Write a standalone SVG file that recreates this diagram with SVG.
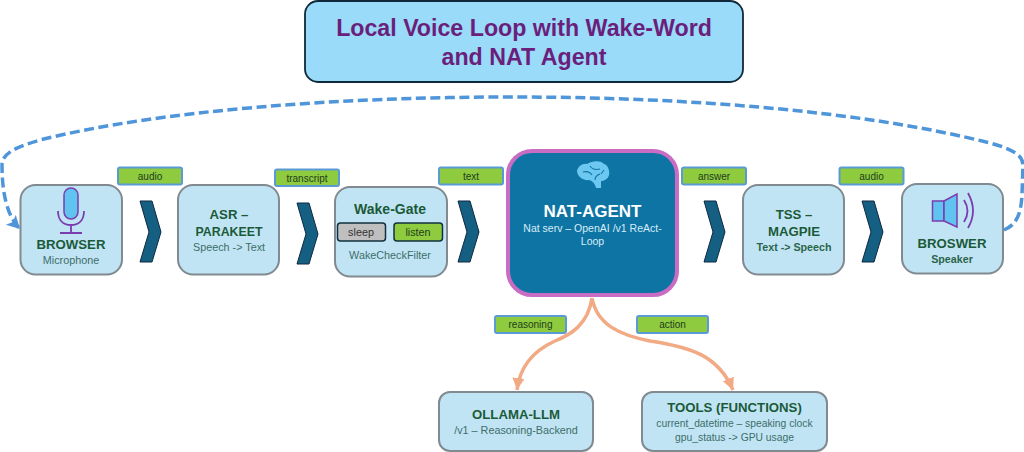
<svg xmlns="http://www.w3.org/2000/svg" width="1024" height="452" viewBox="0 0 1024 452">
<style>
text{font-family:"Liberation Sans",Arial,sans-serif;text-anchor:middle}
.box{fill:#C1E4F5;stroke:#808A90;stroke-width:2}
.h{font-weight:700;font-size:13.2px;fill:#1B5A38}
.s{font-size:10.8px;fill:#3C6E68}
.sb{font-size:10.7px;font-weight:700;fill:#2B6549}
.tag{fill:#8ECB3E;stroke:#5B9BD5;stroke-width:2}
.tl{font-size:10px;fill:#1F3D1F}
.chev{fill:#156082;stroke:#0E2841;stroke-width:1}
.ic{fill:#61C4F0;stroke:#7A3DB0;stroke-width:1.5}
.icl{fill:none;stroke:#7A3DB0;stroke-width:1.8}
.dash{fill:none;stroke:#4E95D9;stroke-width:3.5;stroke-dasharray:10 4.5}
.or{fill:none;stroke:#F2AA84;stroke-width:3.5}
</style>
<defs>
<marker id="ab" markerUnits="userSpaceOnUse" markerWidth="18" markerHeight="16" refX="13" refY="7" orient="auto"><path d="M0,0L13,7L0,14L3,7Z" fill="#4E95D9"/></marker>
<marker id="ao" markerUnits="userSpaceOnUse" markerWidth="16" markerHeight="14" refX="12" refY="6" orient="auto"><path d="M0,0L12,6L0,12Z" fill="#F2AA84"/></marker>
</defs>
<rect width="1024" height="452" fill="#fff"/>
<g id="title"><rect x="305" y="1" width="438" height="81" rx="13" fill="#99DBF9" stroke="#10293A" stroke-width="1.8"/>
<text x="524" y="36" font-size="23.2" font-weight="700" fill="#6B1F7C">Local Voice Loop with Wake-Word</text>
<text x="524" y="65" font-size="23.2" font-weight="700" fill="#6B1F7C">and NAT Agent</text></g>
<g id="connectors">
<path class="dash" marker-end="url(#ab)" d="M1004,230C1016,225 1021,215 1022,195L1023,165C1023,155 1012,149 990,143C860,110 680,97 512,97C340,97 160,110 40,140C20,146 2,152 2,165C2,190 6,215 20,229"/>
<path class="or" marker-end="url(#ao)" d="M592,298C588,325 570,335 555,341C535,350 520,365 517,390"/>
<path class="or" marker-end="url(#ao)" d="M592,298C597,325 620,335 650,341C690,347 718,355 733,390"/>
<polygon class="chev" points="140,201 152,201 161,232 152,262 140,262 149,232"/>
<polygon class="chev" points="297,203 309,203 318,234 309,264 297,264 306,234"/>
<polygon class="chev" points="458,201 470,201 479,232 470,262 458,262 467,232"/>
<polygon class="chev" points="704,201 716,201 725,232 716,262 704,262 713,232"/>
<polygon class="chev" points="862,201 874,201 883,232 874,262 862,262 871,232"/>
</g>
<g id="browser-mic"><rect class="box" x="20.500" y="185" width="101.500" height="89.500" rx="15"/>
<rect class="ic" x="64" y="188" width="14" height="31" rx="7"/>
<path class="icl" d="M58,211C58,220 63,225 71,225C79,225 84,220 84,211M71,225V233M60,233H82"/>
<text class="h" x="71" y="249">BROWSER</text><text class="s" x="71" y="264">Microphone</text></g>
<g id="asr"><rect class="box" x="178" y="185" width="101" height="89.500" rx="15"/>
<text class="h" x="229" y="219">ASR –</text><text class="h" x="229" y="236" textLength="67" lengthAdjust="spacingAndGlyphs">PARAKEET</text><text class="s" x="229" y="251">Speech -&gt; Text</text></g>
<g id="wake"><rect class="box" x="335" y="187" width="112" height="89.500" rx="15"/>
<text class="h" x="390" y="214" style="font-size:14px">Wake-Gate</text>
<rect x="337.500" y="223" width="48" height="18" rx="3" fill="#BFBFBF" stroke="#12303F" stroke-width="1.500"/><text x="361" y="236" font-size="10.800" fill="#333">sleep</text>
<rect x="394" y="223" width="48.500" height="18" rx="3" fill="#8ECB3E" stroke="#12303F" stroke-width="1.500"/><text x="418" y="236" font-size="10.800" fill="#1F3D1F">listen</text>
<text class="s" x="390" y="259">WakeCheckFilter</text></g>
<g id="nat"><rect x="508" y="151" width="169" height="144" rx="24" fill="#0E74A3" stroke="#C86DC3" stroke-width="4"/>
<path fill="#6CC8F0" d="M596,188C595,184 593,181 589,180C583,181 577,176 577,171C578,166 583,163 587,164C592,161 600,160 604,164C608,165 610,171 609,175C608,179 604,181 601,181L601,188Z"/>
<path fill="none" stroke="#0E74A3" stroke-width="1.100" d="M583,172C587,171 590,172 592,175M590,166C592,169 596,170 600,169M600,174C597,175 595,177 595,180M604,170L601,174"/>
<text x="592.500" y="217" font-size="17" font-weight="700" fill="#fff">NAT-AGENT</text>
<text x="592.500" y="232" font-size="10.500" fill="#D6EEF9">Nat serv – OpenAI /v1 ReAct-</text>
<text x="592.500" y="245" font-size="10.500" fill="#D6EEF9">Loop</text></g>
<g id="tss"><rect class="box" x="743" y="185" width="101" height="89.500" rx="15"/>
<text class="h" x="794" y="219">TSS –</text><text class="h" x="794" y="236">MAGPIE</text><text class="sb" x="794" y="251">Text -&gt; Speech</text></g>
<g id="browser-spk"><rect class="box" x="902" y="184" width="101" height="89.500" rx="15"/>
<rect class="ic" x="932.500" y="201" width="11.500" height="20"/><path class="ic" d="M944,201L957,194V227L944,221Z"/>
<path class="icl" d="M964,200Q971,211 964,222M968,193Q978,211 968,228"/>
<text class="h" x="952" y="248">BROSWER</text><text class="sb" x="952" y="263">Speaker</text></g>
<g id="ollama"><rect class="box" x="439" y="392" width="154" height="59" rx="11"/>
<text class="h" x="516" y="419">OLLAMA-LLM</text><text class="s" x="516" y="434">/v1 – Reasoning-Backend</text></g>
<g id="tools"><rect class="box" x="642" y="392" width="185" height="59" rx="11"/>
<text class="h" x="734.500" y="412">TOOLS (FUNCTIONS)</text><text class="s" x="734.500" y="427" style="font-size:10.300px">current_datetime – speaking clock</text><text class="s" x="734.500" y="441" style="font-size:10.300px">gpu_status -&gt; GPU usage</text></g>
<g id="labels">
<rect class="tag" x="118" y="167.500" width="64" height="17" rx="2"/><text class="tl" x="150" y="179.500">audio</text>
<rect class="tag" x="275" y="169.500" width="64" height="16.500" rx="2"/><text class="tl" x="307" y="181.500">transcript</text>
<rect class="tag" x="439" y="167.500" width="64" height="17" rx="2"/><text class="tl" x="471" y="179.500">text</text>
<rect class="tag" x="682" y="167.500" width="64" height="17" rx="2"/><text class="tl" x="714" y="179.500">answer</text>
<rect class="tag" x="839.500" y="167.500" width="64" height="17" rx="2"/><text class="tl" x="871.500" y="179.500">audio</text>
<rect class="tag" x="495" y="316" width="71" height="17" rx="2"/><text class="tl" x="530.500" y="328">reasoning</text>
<rect class="tag" x="637" y="316" width="71" height="17" rx="2"/><text class="tl" x="672.500" y="328">action</text>
</g>
</svg>
